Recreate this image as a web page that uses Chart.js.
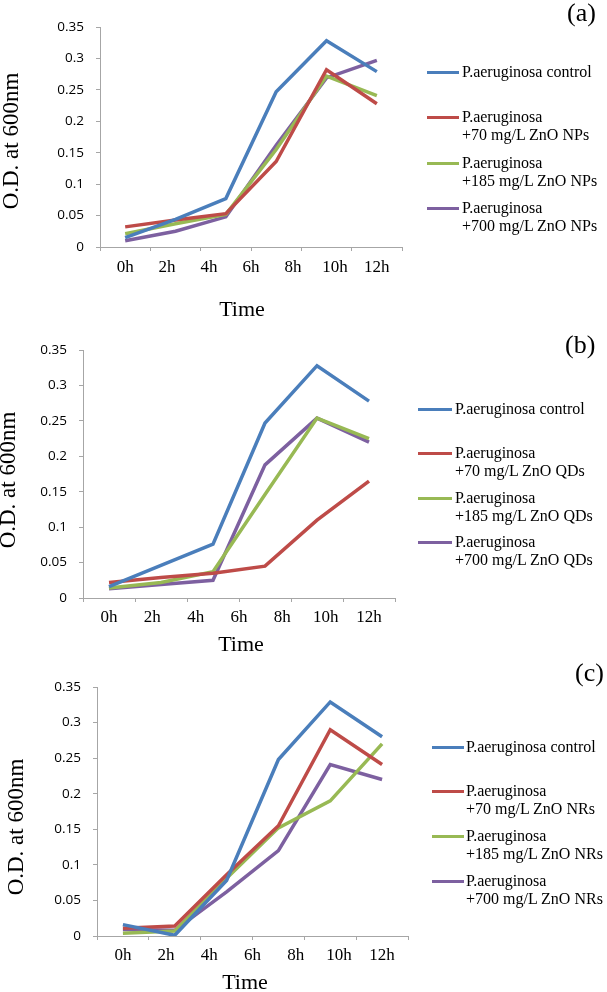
<!DOCTYPE html>
<html>
<head>
<meta charset="utf-8">
<script src="https://cdn.jsdelivr.net/npm/chart.js@4"></script>
<style>
  body { margin:0; background:#fff; width:607px; height:992px; position:relative; overflow:hidden; }
  .panel { position:absolute; left:0; width:607px; }
  .panel canvas { position:absolute; left:0; top:0; }
  .lg { position:absolute; font:16px/18px "Liberation Serif","Times New Roman",serif; color:#000; white-space:nowrap; }
  .sw { position:absolute; height:3px; }
  .tag { position:absolute; font:26px/30px "Liberation Serif","Times New Roman",serif; color:#000; }
</style>
</head>
<body>
<script>
// x labels (a text row under each plot) and the six sampling points
const timeLabels = ['0h','2h','4h','6h','8h','10h','12h'];
const yTicks = [0, 0.05, 0.1, 0.15, 0.2, 0.25, 0.3, 0.35];
const seriesColors = ['#4A7EBB','#BE4B48','#98B954','#7D60A0'];
const yTitle = 'O.D. at 600nm';
const xTitle = 'Time';

// (a) ZnO NPs
const namesA = [['P.aeruginosa control'], ['P.aeruginosa','+70 mg/L ZnO NPs'], ['P.aeruginosa','+185 mg/L ZnO NPs'], ['P.aeruginosa','+700 mg/L ZnO NPs']];
const controlA = [0.015, 0.044, 0.077, 0.247, 0.328, 0.279];
const np70     = [0.032, 0.043, 0.053, 0.136, 0.282, 0.228];
const np185    = [0.021, 0.037, 0.052, 0.155, 0.272, 0.241];
const np700    = [0.010, 0.025, 0.048, 0.162, 0.269, 0.297];

// (b) ZnO QDs
const namesB = [['P.aeruginosa control'], ['P.aeruginosa','+70 mg/L ZnO QDs'], ['P.aeruginosa','+185 mg/L ZnO QDs'], ['P.aeruginosa','+700 mg/L ZnO QDs']];
const controlB = [0.016, 0.046, 0.076, 0.247, 0.328, 0.278];
const qd70     = [0.022, 0.029, 0.035, 0.045, 0.110, 0.165];
const qd185    = [0.014, 0.022, 0.037, 0.146, 0.254, 0.225];
const qd700    = [0.013, 0.019, 0.025, 0.188, 0.254, 0.220];

// (c) ZnO NRs
const namesC = [['P.aeruginosa control'], ['P.aeruginosa','+70 mg/L ZnO NRs'], ['P.aeruginosa','+185 mg/L ZnO NRs'], ['P.aeruginosa','+700 mg/L ZnO NRs']];
const controlC = [0.016, 0.001, 0.078, 0.248, 0.329, 0.280];
const nr70     = [0.011, 0.014, 0.086, 0.155, 0.290, 0.241];
const nr185    = [0.004, 0.007, 0.081, 0.152, 0.190, 0.270];
const nr700    = [0.009, 0.008, 0.062, 0.120, 0.241, 0.220];

const SERIF = '"Liberation Serif","Times New Roman",serif';
const SANS = '"Open Sans",sans-serif';
const AXIS = '#A6A6A6';

// yT / tT: centres of the axis titles, in panel coordinates
const panels = [
  {tag:'(a)', names:namesA, series:[controlA,np70,np185,np700], top:0, height:330, left:100, right:402, chartTop:27, chartBottom:247,
   xPad:10, tT:[242,310], yT:[12,141], lgLine:[427,459], lgText:462, lgY:[72,117,163,208], tagX:567, tagY:13},
  {tag:'(b)', names:namesB, series:[controlB,qd70,qd185,qd700], top:330, height:330, left:83, right:395, chartTop:16, chartBottom:268,
   xPad:9, tT:[241,315], yT:[9,150], lgLine:[418,452], lgText:455, lgY:[409,453,498,542], tagX:565, tagY:345},
  {tag:'(c)', names:namesC, series:[controlC,nr70,nr185,nr700], top:660, height:332, left:97, right:408, chartTop:27, chartBottom:276,
   xPad:9, tT:[245,323], yT:[16.5,167], lgLine:[432,464], lgText:466, lgY:[747,791,836,881], tagX:575, tagY:673}
];

const titlePlugin = {
  id:'titles',
  afterDraw(chart, args, o){
    const ctx = chart.ctx;
    ctx.save();
    ctx.fillStyle = '#000';
    ctx.textAlign = 'center';
    ctx.textBaseline = 'middle';
    ctx.font = '22px ' + SERIF;
    ctx.fillText(xTitle, o.tT[0], o.tT[1]);
    ctx.translate(o.yT[0], o.yT[1]);
    ctx.rotate(-Math.PI/2);
    ctx.font = '23px ' + SERIF;
    ctx.fillText(yTitle, 0, 0);
    ctx.restore();
  }
};

function makePanel(p){
  const div = document.createElement('div');
  div.className = 'panel';
  div.style.top = p.top + 'px';
  div.style.height = p.height + 'px';
  const cv = document.createElement('canvas');
  cv.width = 607; cv.height = p.height;
  div.appendChild(cv);

  p.names.forEach((lines,i)=>{
    const sw = document.createElement('div');
    sw.className = 'sw';
    sw.style.left = p.lgLine[0] + 'px';
    sw.style.width = (p.lgLine[1]-p.lgLine[0]) + 'px';
    sw.style.top = (p.lgY[i]-p.top-1.5) + 'px';
    sw.style.background = seriesColors[i];
    div.appendChild(sw);
    const tx = document.createElement('div');
    tx.className = 'lg';
    tx.style.left = p.lgText + 'px';
    tx.style.top = (p.lgY[i]-p.top-9) + 'px';
    tx.innerHTML = lines.join('<br>');
    div.appendChild(tx);
  });

  const tag = document.createElement('div');
  tag.className = 'tag';
  tag.style.left = p.tagX + 'px';
  tag.style.top = (p.tagY-p.top-15) + 'px';
  tag.textContent = p.tag;
  div.appendChild(tag);
  document.body.appendChild(div);

  new Chart(cv, {
    type:'line',
    data:{
      datasets: p.series.map((vals,i)=>({
        label: p.names[i].join(' '),
        data: vals.map((v,k)=>({x:k, y:v})),
        borderColor: seriesColors[i],
        borderWidth: 3.5,
        pointRadius: 0,
        fill: false,
        tension: 0
      }))
    },
    plugins:[titlePlugin],
    options:{
      responsive:false, animation:false, devicePixelRatio:1,
      layout:{padding:{left:0, right:607-p.right, top:p.chartTop, bottom:0}},
      plugins:{legend:{display:false}, tooltip:{enabled:false}, titles:{tT:p.tT, yT:p.yT}},
      scales:{
        x:{
          type:'linear', position:'bottom', weight:1, min:-0.5, max:5.5,
          afterBuildTicks: s=>{ s.ticks = timeLabels.map((t,k)=>({value:k*5/6})); },
          afterFit: s=>{ s.height = p.height - p.chartBottom; },
          grid:{display:false, drawTicks:false}, border:{display:false},
          ticks:{autoSkip:false, maxRotation:0, padding:p.xPad, color:'#000',
                 font:{family:SERIF, size:17}, callback:(v,k)=>timeLabels[k]}
        },
        xt:{
          type:'linear', position:'bottom', weight:0, min:-0.5, max:5.5,
          afterBuildTicks: s=>{ s.ticks = [-0.5,0.5,1.5,2.5,3.5,4.5,5.5].map(v=>({value:v})); },
          afterFit: s=>{ s.height = 0; },
          ticks:{display:false},
          grid:{drawOnChartArea:false, drawTicks:true, tickLength:4, color:AXIS},
          border:{color:AXIS, width:1}
        },
        y:{
          min:0, max:0.35,
          afterBuildTicks: s=>{ s.ticks = yTicks.map(v=>({value:v})); },
          afterFit: s=>{ s.width = p.left; },
          ticks:{padding:12, color:'#000', font:{family:SANS, size:13.5}, callback:v=>String(+v.toFixed(2))},
          grid:{drawOnChartArea:false, tickLength:4, color:AXIS},
          border:{color:AXIS, width:1}
        }
      }
    }
  });
}

panels.forEach(makePanel);
</script>
</body>
</html>
